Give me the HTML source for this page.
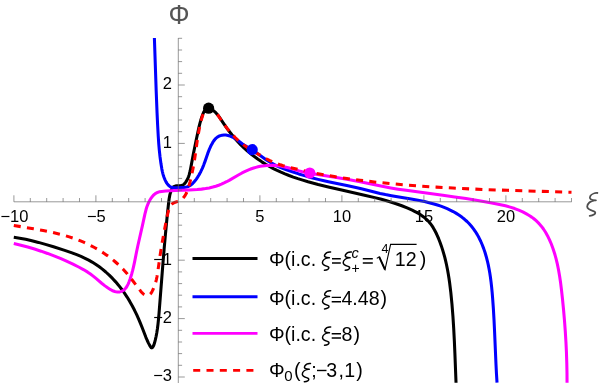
<!DOCTYPE html>
<html><head><meta charset="utf-8"><style>
html,body{margin:0;padding:0;background:#fff;}
body{width:600px;height:390px;overflow:hidden;font-family:"Liberation Sans",sans-serif;}
svg{display:block;will-change:transform;}
</style></head><body>
<svg width="600" height="390" viewBox="0 0 600 390">
<rect width="600" height="390" fill="#fff"/>
<path d="M13.79,237.32L19.66,238.22L25.64,239.34L31.9,240.74L38.45,242.4L45.47,244.38L53.48,246.81L64.72,250.42L72.02,252.92L76.71,254.68L81.01,256.44L85.06,258.28L88.71,260.13L92.12,262.05L95.58,264.22L98.95,266.55L102.36,269.14L105.79,272L109.22,275.14L112.52,278.43L115.68,281.86L118.7,285.41L121.68,289.22L124.5,293.14L127.25,297.3L129.75,301.4L132.19,305.73L134.56,310.3L136.8,314.96L138.56,318.87L140.25,322.83L142.13,327.51L145.89,337.29L147.15,340.26L148.35,342.84L149.66,345.34L150.83,347.23L151.21,347.64L151.5,347.82L151.79,347.86L152.19,347.7L152.58,347.35L152.96,346.85L153.38,346.1L153.77,345.25L154.42,343.33L155.26,340.15L156.09,336.51L156.76,332.92L157.41,328.69L157.98,324.2L158.5,319.28L159.03,313.41L162.92,263.62L164.21,248.17L165.45,234.14L167,217.98L168.58,203.04L169.18,198.43L169.85,194.91L170.62,192.14L171.5,189.75L171.87,188.92L172.31,188.14L172.7,187.58L173.16,187.1L173.54,186.8L174.11,186.48L175.23,186.1L176.67,185.88L179.56,185.69L180.89,185.54L182.13,185.24L183.1,184.81L183.68,184.42L184.22,183.97L184.84,183.33L185.4,182.62L186.67,180.66L187.8,178.44L188.47,176.81L189.05,175.13L189.59,173.26L190.1,171.18L190.67,168.36L193.34,154.08L196.25,139.76L198.91,127.39L199.84,123.58L200.75,120.3L201.73,117.22L202.71,114.5L203.62,112.33L204.39,110.93L205.23,109.84L205.73,109.38L206.29,108.97L206.91,108.64L207.43,108.44L208.61,108.19L208.63,108.16L209.65,108.51L210.76,108.99L211.81,109.54L212.79,110.16L213.72,110.84L214.61,111.57L215.56,112.47L216.46,113.43L217.73,114.96L219.02,116.71L223.87,123.87L227.01,128.32L229.54,131.72L231.93,134.8L234.94,138.44L237.83,141.7L240.84,144.85L243.96,147.87L247.19,150.77L250.66,153.68L254.37,156.58L258.06,159.27L261.84,161.84L265.71,164.29L269.51,166.51L273.38,168.59L277.14,170.46L280.96,172.21L284.98,173.92L289.04,175.51L293.3,177.07L297.91,178.64L302.72,180.16L308.05,181.74L318.12,184.48L329.4,187.27L340.56,189.84L365.57,195.41L375.9,197.86L381.43,199.29L386.62,200.73L391.45,202.18L396.08,203.7L401.79,205.76L407.11,207.9L412.22,210.19L414.51,211.32L416.61,212.42L418.51,213.51L420.23,214.57L421.9,215.68L423.38,216.76L424.81,217.89L426.19,219.08L427.5,220.34L428.64,221.54L430.24,223.45L431.73,225.46L433.2,227.7L434.64,230.19L435.98,232.76L437.29,235.55L438.63,238.71L440,242.21L441.33,245.9L442.54,249.6L443.66,253.32L444.73,257.21L445.7,261.13L446.62,265.23L447.48,269.5L448.28,273.96L448.97,278.26L449.62,282.75L450.81,292.42L451.94,303.8L452.92,316.06L453.67,327.84L454.35,340.81L454.9,353.62L456.03,382.69" fill="none" stroke="#000000" stroke-width="3.05" stroke-linejoin="round"/>
<path d="M154.39,38.01L156.19,90.93L157.07,113.18L157.64,125.27L158.2,135.52L158.72,143.28L159.3,150.05L160.05,156.99L160.94,163.61L161.85,169.07L162.32,171.37L162.79,173.32L163.33,175.24L163.9,176.98L164.54,178.69L165.27,180.37L166.02,181.85L166.78,183.13L167.63,184.32L168.46,185.27L169.51,186.19L170.54,186.85L171.68,187.33L173.07,187.67L174.4,187.82L176.14,187.86L182.19,187.58L183.89,187.47L185.2,187.31L186.46,187.06L187.52,186.74L188.68,186.26L189.79,185.67L190.84,184.97L191.97,184.07L193.04,183.07L194.17,181.86L195.23,180.56L196.34,179.07L197.48,177.39L198.64,175.52L199.73,173.62L200.75,171.69L202.32,168.37L203.77,164.85L204.95,161.61L207.75,153.42L209.42,149.1L210.45,146.79L211.52,144.64L212.63,142.66L213.67,141.02L214.82,139.5L216.09,138.14L217.37,137.1L218.75,136.27L220.39,135.62L222.12,135.21L223.9,135.04L225.86,135.1L227.98,135.44L229.09,135.73L230.18,136.09L232.29,136.99L234.6,138.28L237.26,140.04L242.19,143.66L244.12,145.01L246.22,146.35L251.32,149.34L253.83,150.91L257.09,153.16L263.67,157.97L266.4,159.89L269.31,161.8L272.17,163.48L276.16,165.52L280.72,167.54L285.84,169.53L292.29,171.79L298.76,173.92L305.26,175.9L311.63,177.7L318.05,179.36L322.89,180.51L328.4,181.73L347.94,185.76L355.89,187.49L361.39,188.79L374.24,192.06L380.04,193.45L385.4,194.59L391.44,195.73L411.12,199.05L417.99,200.28L424.48,201.59L430.12,202.91L433.94,203.93L437.42,204.97L440.86,206.12L444.1,207.34L447.16,208.62L450.18,210.02L453.15,211.55L455.92,213.14L458.9,215.04L461.78,217.08L464.54,219.27L467.03,221.5L469.25,223.74L471.44,226.22L473.47,228.82L475.36,231.53L477.27,234.62L479.02,237.81L480.7,241.24L482.21,244.75L483.7,248.63L485.03,252.56L486.26,256.69L487.39,261.02L488.27,264.9L489.08,268.97L489.79,273.05L490.47,277.49L491.07,282.11L491.61,286.91L492.12,292.21L492.64,298.35L493.37,308.62L494.02,319.88L494.57,331.47L495.96,363.77L496.47,373.73L497.02,382.7" fill="none" stroke="#0000ff" stroke-width="3.05" stroke-linejoin="round"/>
<path d="M13.8,243.46L20.9,245.21L27.74,247.06L34.53,249.07L41.07,251.18L47.56,253.44L53.99,255.87L60.37,258.45L66.52,261.13L72.96,264.13L79.17,267.24L83.86,269.8L87.71,272.14L90.43,274L93.18,276.1L95.7,278.17L101.67,283.21L104.98,285.86L108.02,288.07L110.67,289.72L112.12,290.48L113.41,291.04L114.69,291.49L115.98,291.82L117.28,291.99L118.38,292.02L119.47,291.92L120.74,291.63L121.44,291.39L122.3,291L123.59,290.23L124.19,289.77L124.89,289.13L126.01,287.81L127.08,286.16L128.01,284.36L128.97,282.09L130.1,279.01L130.98,276.32L131.84,273.45L132.66,270.38L133.44,267.12L134.48,262.34L136.68,251.24L137.9,245.49L142.41,225.67L144.9,214.08L146.05,209.51L146.81,207.07L147.68,204.68L148.62,202.52L149.61,200.58L150.74,198.69L151.9,197.05L153.05,195.68L154.3,194.45L155.05,193.85L155.83,193.31L156.64,192.84L157.49,192.45L158.37,192.13L159.46,191.83L161.74,191.43L165.65,191.06L170.39,190.75L175.36,190.53L189.3,190.06L193.46,189.84L197.21,189.57L201.51,189.13L205.57,188.57L209.21,187.9L212.79,187.08L215.77,186.23L218.71,185.24L221.42,184.17L224.09,182.96L226.56,181.72L229.17,180.31L238.36,175.01L242.03,172.97L245.76,171.1L249.2,169.6L251.41,168.76L253.65,168.02L255.91,167.36L258,166.83L260.3,166.35L262.43,165.98L264.76,165.67L266.91,165.47L270.43,165.31L273.76,165.36L277.28,165.62L280.58,166.08L283.09,166.57L285.96,167.23L289.21,168.09L299.11,170.89L302.37,171.68L306.02,172.46L312.8,173.67L334.95,177.18L348.14,179.49L360.12,181.78L382.09,186.31L390.78,187.95L398.16,189.18L406.14,190.36L442.84,195.21L454.73,196.89L466.02,198.6L479.23,200.74L491.82,202.94L499.35,204.41L505.47,205.81L510.2,207.11L514.7,208.56L518.76,210.12L522.75,211.9L526.46,213.84L528.35,214.95L530.02,216.01L531.66,217.12L533.25,218.3L534.78,219.52L536.12,220.68L538.64,223.12L539.83,224.41L541.09,225.9L542.3,227.43L543.44,229.01L545.58,232.29L547.61,235.89L549.52,239.8L551.31,244L552.96,248.46L554.61,253.52L556.04,258.64L557.37,264.18L558.55,269.96L559.59,275.96L560.56,282.58L561.49,290.01L562.51,299.21L563.57,309.99L564.51,320.77L565.29,331.37L565.94,341.97L566.44,352.39L566.78,362.61L566.99,372.66L567.05,382.7" fill="none" stroke="#ff00ff" stroke-width="3.05" stroke-linejoin="round"/>
<path d="M13.81,225.46L33.47,228.76L43.16,230.52L47.99,231.47L52.52,232.44L56.89,233.46L60.95,234.48L65.26,235.67L69.27,236.87L73.11,238.12L76.92,239.48L80.55,240.9L84.15,242.42L87.71,244.05L91.22,245.78L94.42,247.48L97.45,249.19L100.55,251.06L103.48,252.94L106.35,254.9L109.16,256.94L111.91,259.06L114.59,261.25L117.73,264L120.66,266.76L123.59,269.73L126.29,272.7L128.7,275.55L131.22,278.7L140.55,290.92L141.61,292.19L142.52,293.14L143.37,293.89L144.28,294.51L145.13,294.94L146.03,295.24L146.97,295.38L147.91,295.35L148.68,295.17L149.38,294.84L149.81,294.54L150.31,294.09L151.19,292.98L152.1,291.43L153.17,289.27L154.15,286.95L154.99,284.61L155.74,282.11L156.45,279.31L157.03,276.49L157.57,273.37L160.01,255.9L161.2,248.44L162.62,240.16L164.75,228.43L166.29,220.42L167.8,213.35L168.69,210.01L169.45,207.95L170.29,206.28L170.82,205.45L171.33,204.79L171.89,204.17L172.41,203.7L173.33,203.05L174.25,202.6L175.25,202.23L178.06,201.36L179.67,200.66L180.54,200.17L181.46,199.54L182.2,198.94L183,198.19L184.24,196.74L185.32,195.14L186.32,193.28L187.24,191.17L187.84,189.52L188.47,187.55L189.97,182.12L191.47,175.87L192.81,169.51L193.8,164.14L194.76,158.34L197.23,140.9L198.28,134.17L199.53,127.46L200.21,124.34L200.94,121.38L201.9,117.87L203,114.39L203.65,112.62L204.33,111.22L205.13,110.1L205.62,109.6L206.17,109.17L206.79,108.79L207.35,108.54L208.63,108.18L208.64,108.15L209.62,108.47L210.54,108.85L212.25,109.76L213.94,110.97L215.47,112.37L216.86,113.92L218.26,115.74L223.07,122.84L226.15,127.09L228.91,130.59L231.82,133.96L233.66,135.94L235.42,137.74L237.37,139.61L239.23,141.3L241.28,143.05L243.24,144.62L245.24,146.12L247.29,147.57L249.87,149.25L253.01,151.15L266.3,158.73L269.87,160.64L273.19,162.18L275.5,163.11L277.85,163.97L280.41,164.83L283.18,165.67L290.09,167.53L299.3,169.76L310.63,172.25L322.21,174.51L334.21,176.58L346.82,178.51L360.05,180.28L374.26,181.94L389.46,183.5L405.24,184.9L420.46,186.08L436.28,187.13L452.87,188.07L470.64,188.93L488.02,189.64L507.34,190.33L571.5,192.27" fill="none" stroke="#ff0000" stroke-width="3.05" stroke-linejoin="round" stroke-dasharray="7.02 6.28"/>
<g stroke="#666" stroke-width="0.67" fill="none">
<path d="M13.9,201.8H571.7"/>
<path d="M178.3,38V383"/>
<path d="M13.9,201.8v-6.5M30.3,201.8v-3.8M46.7,201.8v-3.8M63.1,201.8v-3.8M79.5,201.8v-3.8M95.9,201.8v-6.5M112.3,201.8v-3.8M128.7,201.8v-3.8M145.1,201.8v-3.8M161.5,201.8v-3.8M194.3,201.8v-3.8M210.7,201.8v-3.8M227.1,201.8v-3.8M243.5,201.8v-3.8M259.9,201.8v-6.5M276.3,201.8v-3.8M292.7,201.8v-3.8M309.1,201.8v-3.8M325.5,201.8v-3.8M341.9,201.8v-6.5M358.3,201.8v-3.8M374.7,201.8v-3.8M391.1,201.8v-3.8M407.5,201.8v-3.8M423.9,201.8v-6.5M440.3,201.8v-3.8M456.7,201.8v-3.8M473.1,201.8v-3.8M489.5,201.8v-3.8M505.9,201.8v-6.5M522.3,201.8v-3.8M538.7,201.8v-3.8M555.1,201.8v-3.8M571.5,201.8v-3.8M178.3,377.0h6.5M178.3,365.3h3.8M178.3,353.6h3.8M178.3,342.0h3.8M178.3,330.3h3.8M178.3,318.6h6.5M178.3,306.9h3.8M178.3,295.2h3.8M178.3,283.6h3.8M178.3,271.9h3.8M178.3,260.2h6.5M178.3,248.5h3.8M178.3,236.8h3.8M178.3,225.2h3.8M178.3,213.5h3.8M178.3,190.1h3.8M178.3,178.4h3.8M178.3,166.8h3.8M178.3,155.1h3.8M178.3,143.4h6.5M178.3,131.7h3.8M178.3,120.0h3.8M178.3,108.4h3.8M178.3,96.7h3.8M178.3,85.0h6.5M178.3,73.3h3.8M178.3,61.6h3.8M178.3,50.0h3.8M178.3,38.3h3.8"/>
</g>
<g font-family="Liberation Sans, sans-serif" font-size="16.5" fill="#000">
<text x="14.4" y="221.5" text-anchor="middle">−10</text>
<text x="96.4" y="221.5" text-anchor="middle">−5</text>
<text x="259.9" y="221.5" text-anchor="middle">5</text>
<text x="341.9" y="221.5" text-anchor="middle">10</text>
<text x="423.9" y="221.5" text-anchor="middle">15</text>
<text x="505.9" y="221.5" text-anchor="middle">20</text>
<text x="172" y="88.8" text-anchor="end">2</text>
<text x="172" y="148.0" text-anchor="end">1</text>
<text x="172" y="264.5" text-anchor="end">−1</text>
<text x="172" y="323.3" text-anchor="end">−2</text>
<text x="172" y="380.8" text-anchor="end">−3</text>
</g>
<text transform="translate(179.1,23.8) scale(1.07,1.1)" x="0" y="0" text-anchor="middle" font-family="Liberation Sans, sans-serif" font-size="24.7" fill="#555">Φ</text>
<path transform="translate(586.3,215.9) scale(1.000)" d="M11.1,-22.9C8.7,-23.1 5.2,-21.9 3.9,-19.6C2.7,-17.3 4.2,-15.6 9.6,-15.6M8.2,-15.6C4.2,-15.1 0.9,-12.4 0.9,-9.3C0.9,-6.4 4.2,-5.6 7.2,-4.8C9.7,-4 9.3,-2.3 7.7,-1.3C6.5,-0.5 4.7,-0.1 3.4,0" fill="none" stroke="#4d4d4d" stroke-width="1.80" stroke-linecap="round" stroke-linejoin="round"/>
<circle cx="208.6" cy="108.2" r="5.6" fill="#000"/>
<circle cx="252.2" cy="149.7" r="5.6" fill="#0000ff"/>
<circle cx="309.8" cy="173" r="5.6" fill="#ff00ff"/>
<rect x="186" y="240" width="255" height="150" fill="#fff" opacity="0"/>
<path d="M192.5,258.5H257.5" stroke="#000" stroke-width="2.9" fill="none"/>
<path d="M192.5,296.7H257.5" stroke="#0000ff" stroke-width="2.9" fill="none"/>
<path d="M192.5,333.4H257.5" stroke="#ff00ff" stroke-width="2.9" fill="none"/>
<path d="M193.2,370.4H257.5" stroke="#ff0000" stroke-width="2.9" fill="none" stroke-dasharray="7.02 6.28"/>
<g font-family="Liberation Sans, sans-serif" font-size="19.6" fill="#000">
<text x="268.9" y="265.8">Φ(i.c.</text>
<path transform="translate(321.7,270.3) scale(0.800)" d="M11.1,-22.9C8.7,-23.1 5.2,-21.9 3.9,-19.6C2.7,-17.3 4.2,-15.6 9.6,-15.6M8.2,-15.6C4.2,-15.1 0.9,-12.4 0.9,-9.3C0.9,-6.4 4.2,-5.6 7.2,-4.8C9.7,-4 9.3,-2.3 7.7,-1.3C6.5,-0.5 4.7,-0.1 3.4,0" fill="none" stroke="#000" stroke-width="1.85" stroke-linecap="round" stroke-linejoin="round"/>
<path d="M332.0,258.7H340.8M332.0,263.0H340.8" stroke="#000" stroke-width="1.4" fill="none"/>
<path transform="translate(342.5,270.3) scale(0.800)" d="M11.1,-22.9C8.7,-23.1 5.2,-21.9 3.9,-19.6C2.7,-17.3 4.2,-15.6 9.6,-15.6M8.2,-15.6C4.2,-15.1 0.9,-12.4 0.9,-9.3C0.9,-6.4 4.2,-5.6 7.2,-4.8C9.7,-4 9.3,-2.3 7.7,-1.3C6.5,-0.5 4.7,-0.1 3.4,0" fill="none" stroke="#000" stroke-width="1.85" stroke-linecap="round" stroke-linejoin="round"/>
<text x="351.6" y="258.4" font-size="14.5" font-style="italic">c</text>
<text x="351.6" y="272.7" font-size="14">+</text>
<path d="M362.8,258.7H372.8M362.8,263.0H372.8" stroke="#000" stroke-width="1.4" fill="none"/>
<path d="M376.8,258.4L379.2,256.8L385,269.6L390.6,244.4H416.6" fill="none" stroke="#000" stroke-width="1.1"/>
<path d="M379.2,256.8L385,269.6" fill="none" stroke="#000" stroke-width="2"/>
<text x="381.6" y="253" font-size="12.5">4</text>
<text x="394.8" y="265.8">12</text>
<text x="419.8" y="265.8">)</text>
<text x="268.9" y="304.5">Φ(i.c.</text>
<path transform="translate(321.8,309.0) scale(0.800)" d="M11.1,-22.9C8.7,-23.1 5.2,-21.9 3.9,-19.6C2.7,-17.3 4.2,-15.6 9.6,-15.6M8.2,-15.6C4.2,-15.1 0.9,-12.4 0.9,-9.3C0.9,-6.4 4.2,-5.6 7.2,-4.8C9.7,-4 9.3,-2.3 7.7,-1.3C6.5,-0.5 4.7,-0.1 3.4,0" fill="none" stroke="#000" stroke-width="1.85" stroke-linecap="round" stroke-linejoin="round"/>
<path d="M331.7,297.4H341.0M331.7,301.7H341.0" stroke="#000" stroke-width="1.4" fill="none"/>
<text x="341.4" y="304.5">4.48<tspan dx="1">)</tspan></text>
<text x="268.9" y="340.8">Φ(i.c.</text>
<path transform="translate(321.8,345.3) scale(0.800)" d="M11.1,-22.9C8.7,-23.1 5.2,-21.9 3.9,-19.6C2.7,-17.3 4.2,-15.6 9.6,-15.6M8.2,-15.6C4.2,-15.1 0.9,-12.4 0.9,-9.3C0.9,-6.4 4.2,-5.6 7.2,-4.8C9.7,-4 9.3,-2.3 7.7,-1.3C6.5,-0.5 4.7,-0.1 3.4,0" fill="none" stroke="#000" stroke-width="1.85" stroke-linecap="round" stroke-linejoin="round"/>
<path d="M331.7,333.7H341.0M331.7,338.0H341.0" stroke="#000" stroke-width="1.4" fill="none"/>
<text x="341.5" y="340.8">8<tspan dx="1">)</tspan></text>
<text x="268.9" y="377.3">Φ<tspan font-size="15" dy="4" dx="-0.3">0</tspan><tspan dy="-4" dx="1.5">(</tspan></text>
<path transform="translate(301.6,381.8) scale(0.800)" d="M11.1,-22.9C8.7,-23.1 5.2,-21.9 3.9,-19.6C2.7,-17.3 4.2,-15.6 9.6,-15.6M8.2,-15.6C4.2,-15.1 0.9,-12.4 0.9,-9.3C0.9,-6.4 4.2,-5.6 7.2,-4.8C9.7,-4 9.3,-2.3 7.7,-1.3C6.5,-0.5 4.7,-0.1 3.4,0" fill="none" stroke="#000" stroke-width="1.85" stroke-linecap="round" stroke-linejoin="round"/>
<text x="311.3" y="377.3">;<tspan dx="-0.8">−</tspan><tspan dx="-1.2">3</tspan><tspan dx="1.5">,</tspan><tspan dx="0.2">1</tspan><tspan dx="1">)</tspan></text>
</g>
</svg>
</body></html>
